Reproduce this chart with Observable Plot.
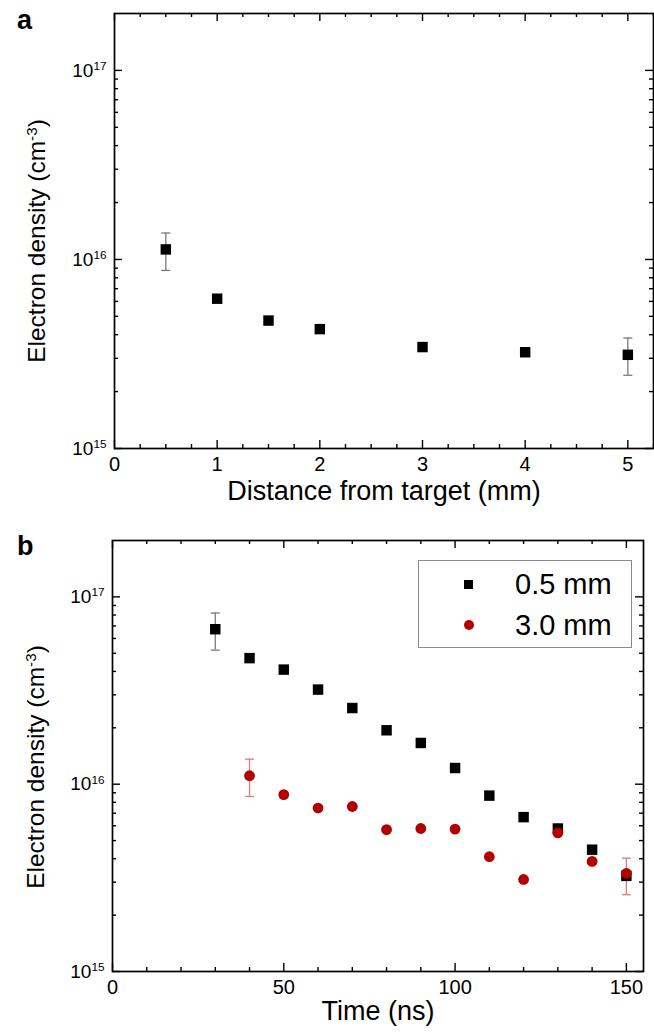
<!DOCTYPE html>
<html><head><meta charset="utf-8">
<script src="https://cdn.jsdelivr.net/npm/d3@7"></script>
<script src="https://cdn.jsdelivr.net/npm/@observablehq/plot@0.6"></script>
<style>
html,body{margin:0;padding:0;background:#fff;}
#wrap{position:relative;width:654px;height:1034px;overflow:hidden;background:#fff;font-family:"Liberation Sans",Arial,sans-serif;}
.panel{position:absolute;left:0;}
.letter{position:absolute;font-weight:bold;font-size:27px;line-height:1;}
#legend{position:absolute;left:418px;top:560px;width:214px;height:88px;border:1px solid #8a8a8a;box-sizing:border-box;background:#fff;}
.row{position:absolute;left:0;width:212px;height:34px;}
.mk{position:absolute;}
.lt{position:absolute;left:96px;top:0;font-size:29px;line-height:34px;color:#000;white-space:nowrap;}
</style></head><body>
<div id="wrap">
  <div id="pa" class="panel" style="top:0"></div>
  <div id="pb" class="panel" style="top:530px"></div>
  <div class="letter" style="left:17px;top:7px">a</div>
  <div class="letter" style="left:17px;top:533px">b</div>
  <div id="legend">
    <div class="row" style="top:6px"><div class="mk" style="left:45px;top:13px;width:9px;height:9px;background:#000"></div><div class="lt">0.5 mm</div></div>
    <div class="row" style="top:47px"><div class="mk" style="left:45px;top:12px;width:10px;height:10px;border-radius:50%;background:#b30000"></div><div class="lt">3.0 mm</div></div>
  </div>
</div>
<script>
// ---------- Panel a data ----------
const distA = [0.5, 1, 1.5, 2, 3, 4, 5];
const densA = [1.13e16, 6.2e15, 4.75e15, 4.28e15, 3.44e15, 3.23e15, 3.13e15];
const errDistA = [0.5, 5];
const errLoA = [8.75e15, 2.44e15];
const errHiA = [1.38e16, 3.84e15];

// ---------- Panel b data ----------
const time05 = [30, 40, 50, 60, 70, 80, 90, 100, 110, 120, 130, 140, 150];
const dens05 = [6.72e16, 4.71e16, 4.09e16, 3.2e16, 2.55e16, 1.94e16, 1.66e16, 1.22e16, 8.69e15, 6.67e15, 5.8e15, 4.47e15, 3.24e15];
const time30 = [40, 50, 60, 70, 80, 90, 100, 110, 120, 130, 140, 150];
const dens30 = [1.11e16, 8.8e15, 7.46e15, 7.6e15, 5.72e15, 5.8e15, 5.76e15, 4.1e15, 3.1e15, 5.5e15, 3.87e15, 3.34e15];
const errTime05 = [30], errLo05 = [5.2e16], errHi05 = [8.2e16];
const errTime30 = [40, 150], errLo30 = [8.6e15, 2.57e15], errHi30 = [1.36e16, 4.03e15];

// ---------- Axis ticks ----------
const xMajorA = [0, 1, 2, 3, 4, 5];
const xMinorA = [0.25,0.5,0.75,1.25,1.5,1.75,2.25,2.5,2.75,3.25,3.5,3.75,4.25,4.5,4.75,5.25];
const xMajorB = [0, 50, 100, 150];
const xMinorB = [10,20,30,40,60,70,80,90,110,120,130,140];
const yMajor = [1e15, 1e16, 1e17];
const yMinorMult = [2, 3, 4, 5, 6, 7, 8, 9];
const yMinor = [1e15, 1e16].flatMap(b => yMinorMult.map(m => m * b));
const yTitle = "Electron density (cm^-3)";
const RED = "#b30000";

const FONT = '"Liberation Sans", Arial, sans-serif';
const cap = {draw(ctx, size) { const w = Math.sqrt(size / Math.PI); ctx.moveTo(-w, 0); ctx.lineTo(w, 0); }};

function rows(xs, ys) { return xs.map((x, i) => ({x, y: ys[i]})); }
function errRows(xs, lo, hi) { return xs.map((x, i) => ({x, lo: lo[i], hi: hi[i]})); }

function tickMarks(W, H, m, xMaj, xMin) {
  const iw = W - m.left - m.right, ih = H - m.top - m.bottom;
  const M = 8, N = 4, sw = 1.4;
  return [
    Plot.tickX(xMaj, {x: d => d, insetTop: ih - M, stroke: "#000", strokeWidth: sw}),
    Plot.tickX(xMaj, {x: d => d, insetBottom: ih - M, stroke: "#000", strokeWidth: sw}),
    Plot.tickX(xMin, {x: d => d, insetTop: ih - N, stroke: "#000", strokeWidth: sw}),
    Plot.tickX(xMin, {x: d => d, insetBottom: ih - N, stroke: "#000", strokeWidth: sw}),
    Plot.tickY(yMajor, {y: d => d, insetRight: iw - M, stroke: "#000", strokeWidth: sw}),
    Plot.tickY(yMajor, {y: d => d, insetLeft: iw - M, stroke: "#000", strokeWidth: sw}),
    Plot.tickY(yMinor, {y: d => d, insetRight: iw - N, stroke: "#000", strokeWidth: sw}),
    Plot.tickY(yMinor, {y: d => d, insetLeft: iw - N, stroke: "#000", strokeWidth: sw})
  ];
}

function supify(svg) {
  svg.querySelectorAll("text").forEach(t => {
    const s = t.textContent;
    if (!s.includes("^")) return;
    const parts = s.split(/\^(-?\d+)/);
    t.textContent = "";
    const NS = "http://www.w3.org/2000/svg";
    parts.forEach((p, i) => {
      if (!p) return;
      const ts = document.createElementNS(NS, "tspan");
      ts.textContent = p;
      if (i % 2 === 1) { ts.setAttribute("dy", "-0.55em"); ts.setAttribute("font-size", "0.62em"); }
      else if (i > 0) { ts.setAttribute("dy", "0.34em"); }
      t.appendChild(ts);
    });
  });
}

const yFmt = d => "10^" + Math.round(Math.log10(d));

// ---------- Panel a ----------
{
  const W = 654, H = 530, m = {top: 13, right: 1, bottom: 82, left: 114};
  const svg = Plot.plot({
    width: W, height: H, marginTop: m.top, marginRight: m.right, marginBottom: m.bottom, marginLeft: m.left,
    style: {fontFamily: FONT, background: "#fff", color: "#000", overflow: "visible"},
    x: {domain: [0, 5.25]},
    y: {type: "log", domain: [1e15, 2e17]},
    marks: [
      ...tickMarks(W, H, m, xMajorA, xMinorA),
      Plot.axisX({ticks: xMajorA, tickSize: 0, tickPadding: 8, fontSize: 20, label: null, tickFormat: d => String(d)}),
      Plot.axisY({ticks: yMajor, tickSize: 0, tickPadding: 8, fontSize: 19, label: null, tickFormat: yFmt}),
      Plot.text(["Distance from target (mm)"], {frameAnchor: "bottom", dy: 51, fontSize: 27}),
      Plot.text([yTitle], {frameAnchor: "left", textAnchor: "middle", dx: -77, dy: 10, rotate: -90, fontSize: 24.5}),
      Plot.ruleX(errRows(errDistA, errLoA, errHiA), {x: "x", y1: "lo", y2: "hi", stroke: "#7a7a7a", strokeWidth: 1.3}),
      Plot.dot(errRows(errDistA, errLoA, errHiA), {x: "x", y: "lo", symbol: cap, r: 4.5, stroke: "#7a7a7a", strokeWidth: 1.3}),
      Plot.dot(errRows(errDistA, errLoA, errHiA), {x: "x", y: "hi", symbol: cap, r: 4.5, stroke: "#7a7a7a", strokeWidth: 1.3}),
      Plot.dot(rows(distA, densA), {x: "x", y: "y", symbol: "square", r: 5.9, fill: "#000", stroke: "none"}),
      Plot.frame({stroke: "#000", strokeWidth: 1.7})
    ]
  });
  supify(svg);
  document.getElementById("pa").appendChild(svg);
}

// ---------- Panel b ----------
{
  const W = 654, H = 504, m = {top: 10, right: 11, bottom: 63, left: 112};
  const svg = Plot.plot({
    width: W, height: H, marginTop: m.top, marginRight: m.right, marginBottom: m.bottom, marginLeft: m.left,
    style: {fontFamily: FONT, background: "#fff", color: "#000", overflow: "visible"},
    x: {domain: [0, 155]},
    y: {type: "log", domain: [1e15, 2e17]},
    marks: [
      ...tickMarks(W, H, m, xMajorB, xMinorB),
      Plot.axisX({ticks: xMajorB, tickSize: 0, tickPadding: 8, fontSize: 20, label: null, tickFormat: d => String(d)}),
      Plot.axisY({ticks: yMajor, tickSize: 0, tickPadding: 8, fontSize: 19, label: null, tickFormat: yFmt}),
      Plot.text(["Time (ns)"], {frameAnchor: "bottom", dy: 48, fontSize: 27}),
      Plot.text([yTitle], {frameAnchor: "left", textAnchor: "middle", dx: -76, dy: 11, rotate: -90, fontSize: 24.5}),
      Plot.ruleX(errRows(errTime05, errLo05, errHi05), {x: "x", y1: "lo", y2: "hi", stroke: "#7a7a7a", strokeWidth: 1.3}),
      Plot.dot(errRows(errTime05, errLo05, errHi05), {x: "x", y: "lo", symbol: cap, r: 4.5, stroke: "#7a7a7a", strokeWidth: 1.3}),
      Plot.dot(errRows(errTime05, errLo05, errHi05), {x: "x", y: "hi", symbol: cap, r: 4.5, stroke: "#7a7a7a", strokeWidth: 1.3}),
      Plot.ruleX(errRows(errTime30, errLo30, errHi30), {x: "x", y1: "lo", y2: "hi", stroke: "#e07a7a", strokeWidth: 1.3}),
      Plot.dot(errRows(errTime30, errLo30, errHi30), {x: "x", y: "lo", symbol: cap, r: 4.5, stroke: "#e07a7a", strokeWidth: 1.3}),
      Plot.dot(errRows(errTime30, errLo30, errHi30), {x: "x", y: "hi", symbol: cap, r: 4.5, stroke: "#e07a7a", strokeWidth: 1.3}),
      Plot.dot(rows(time05, dens05), {x: "x", y: "y", symbol: "square", r: 5.9, fill: "#000", stroke: "none"}),
      Plot.dot(rows(time30, dens30), {x: "x", y: "y", symbol: "circle", r: 5.4, fill: RED, stroke: "none"}),
      Plot.frame({stroke: "#000", strokeWidth: 1.7})
    ]
  });
  supify(svg);
  document.getElementById("pb").appendChild(svg);
}
</script>
</body></html>
